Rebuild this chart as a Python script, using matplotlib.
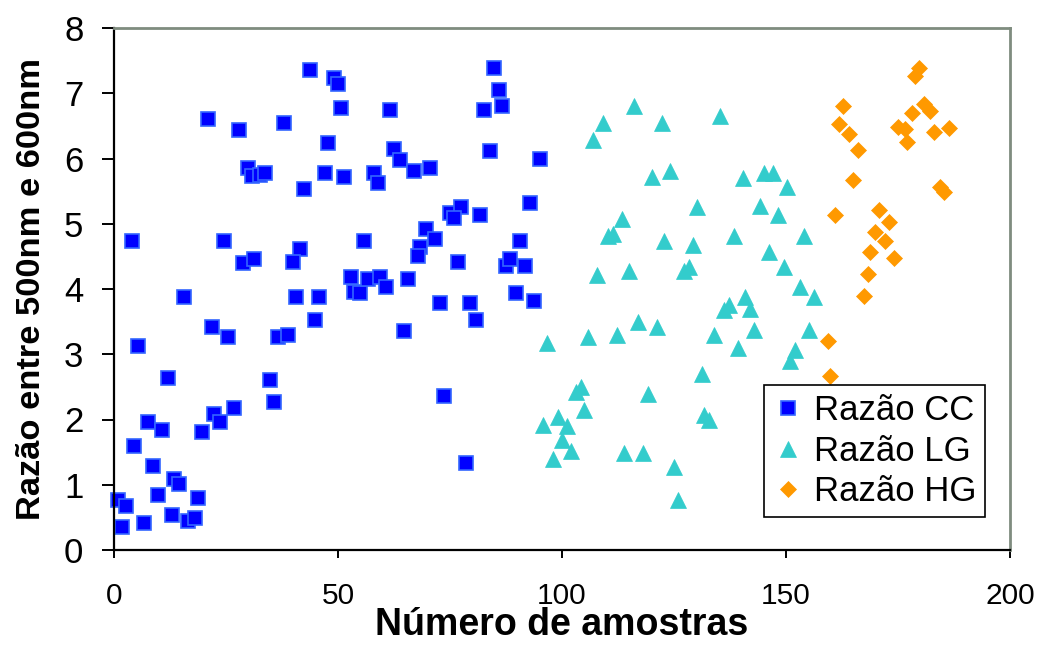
import matplotlib
matplotlib.use("Agg")
import matplotlib.pyplot as plt

plt.rcParams['font.family'] = ['Liberation Sans', 'DejaVu Sans']

# Razão CC (samples 1-95)
cc_x = [43.7, 49.1, 50.1, 50.6, 21.0, 27.8, 38.0, 47.8, 30.0, 30.9, 32.7, 33.6, 47.0, 51.4,
        42.5, 4.0, 24.6, 41.6, 28.9, 31.3, 39.9, 52.9, 53.6, 15.7, 40.7, 45.7, 44.8, 5.4,
        21.9, 25.5, 36.7, 38.9, 12.1, 34.9, 35.8, 7.6, 10.7, 4.4, 19.7, 22.4, 23.7, 26.8,
        8.7, 13.4, 14.5, 9.9, 18.7, 0.9, 2.7, 12.9, 6.6, 1.7, 16.5, 18.0,
        84.8, 86.0, 86.6, 82.6, 61.6, 62.5, 63.8, 67.0, 70.5, 83.9, 95.1, 58.0, 58.9, 92.9,
        75.0, 77.5, 75.9, 81.7, 55.8, 69.7, 71.7, 68.3, 67.9, 90.6, 76.8, 87.5, 88.5, 91.8,
        54.9, 56.7, 59.4, 60.7, 65.6, 72.8, 79.5, 80.8, 89.7, 93.75, 64.7, 73.7, 78.6]
cc_y = [7.35, 7.23, 7.14, 6.77, 6.61, 6.43, 6.55, 6.24, 5.85, 5.73, 5.74, 5.78, 5.78, 5.72,
        5.54, 4.73, 4.73, 4.62, 4.40, 4.46, 4.42, 4.18, 3.96, 3.87, 3.87, 3.87, 3.53, 3.13,
        3.41, 3.26, 3.26, 3.30, 2.64, 2.60, 2.27, 1.96, 1.84, 1.59, 1.81, 2.08, 1.96, 2.18,
        1.28, 1.09, 1.01, 0.85, 0.79, 0.76, 0.67, 0.53, 0.42, 0.36, 0.45, 0.49,
        7.38, 7.05, 6.80, 6.74, 6.74, 6.15, 5.97, 5.81, 5.85, 6.12, 6.00, 5.78, 5.62, 5.32,
        5.17, 5.26, 5.09, 5.13, 4.73, 4.92, 4.77, 4.64, 4.51, 4.73, 4.42, 4.36, 4.46, 4.36,
        3.94, 4.15, 4.19, 4.03, 4.15, 3.78, 3.78, 3.53, 3.94, 3.81, 3.35, 2.36, 1.33]

# Razão LG (samples 96-156)
lg_x = [116.0, 109.1, 122.3, 135.2, 107.0, 120.0, 124.0, 140.3, 145.1, 147.2, 150.3, 130.2,
        144.1, 148.2, 113.4, 110.2, 111.3, 122.7, 129.3, 138.3, 154.1, 146.1, 149.5, 107.9,
        115.0, 127.2, 128.3, 153.1, 156.3, 140.9, 137.2, 136.1, 141.9, 116.9, 121.2, 112.3,
        105.7, 96.7, 133.9, 142.9, 155.2, 139.3, 152.0, 150.9, 131.2, 104.3, 103.2, 119.1,
        104.8, 99.0, 95.7, 101.1, 99.9, 102.0, 98.1, 131.7, 132.9, 113.8, 118.1, 125.0, 126.0]
lg_y = [6.80, 6.55, 6.55, 6.65, 6.29, 5.71, 5.81, 5.70, 5.78, 5.78, 5.57, 5.26,
        5.27, 5.14, 5.08, 4.81, 4.84, 4.74, 4.68, 4.81, 4.81, 4.56, 4.33, 4.22,
        4.28, 4.28, 4.33, 4.03, 3.88, 3.88, 3.76, 3.68, 3.69, 3.49, 3.41, 3.30,
        3.27, 3.17, 3.29, 3.37, 3.37, 3.09, 3.06, 2.89, 2.69, 2.50, 2.42, 2.39,
        2.14, 2.04, 1.91, 1.90, 1.69, 1.52, 1.39, 2.07, 1.99, 1.49, 1.49, 1.27, 0.77]

# Razão HG (samples 157-186)
hg_x = [162.8, 161.9, 164.1, 166.1, 165.0, 160.9, 178.1, 180.8, 182.1, 175.1, 176.6, 177.1,
        183.1, 186.4, 184.4, 185.3, 170.8, 173.1, 169.9, 172.1, 168.8, 174.1, 168.2, 167.3,
        159.3, 159.8, 179.7, 178.8]
hg_y = [6.81, 6.53, 6.38, 6.13, 5.67, 5.14, 6.69, 6.84, 6.73, 6.48, 6.45, 6.26,
        6.40, 6.46, 5.56, 5.48, 5.21, 5.02, 4.87, 4.74, 4.56, 4.47, 4.23, 3.90,
        3.21, 2.66, 7.38, 7.26]

fig = plt.figure(figsize=(10.39, 6.48), dpi=100)
ax = fig.add_axes([114 / 1039, 1 - 550 / 648, 896 / 1039, 522 / 648])

ax.plot(cc_x, cc_y, linestyle='none', marker='s', markersize=9.5, markerfacecolor='#0000FF',
        markeredgecolor='#3366FF', markeredgewidth=1.2, label='Razão CC', clip_on=False)
ax.plot(lg_x, lg_y, linestyle='none', marker='^', markersize=11.5, markerfacecolor='#33CCCC',
        markeredgecolor='#33CCCC', markeredgewidth=0.5, label='Razão LG', clip_on=False)
ax.plot(hg_x, hg_y, linestyle='none', marker='D', markersize=8, markerfacecolor='#FF9900',
        markeredgecolor='#FF9900', markeredgewidth=0.5, label='Razão HG', clip_on=False)

ax.set_xlim(0, 200)
ax.set_ylim(0, 8)
ax.set_xticks([0, 50, 100, 150, 200])
ax.set_yticks(range(0, 9))

for side in ['left', 'bottom']:
    ax.spines[side].set_color('black')
    ax.spines[side].set_linewidth(1.6)
for side in ['top', 'right']:
    ax.spines[side].set_color('#7f8c7f')
    ax.spines[side].set_linewidth(2)

ax.tick_params(axis='y', direction='out', length=9, width=1.4, labelsize=25, pad=13)
ax.tick_params(axis='x', direction='out', length=6, width=1.4, labelsize=21.5, pad=17)

ax.set_xlabel('Número de amostras', fontsize=27, fontweight='bold', labelpad=-2)
ax.set_ylabel('Razão entre 500nm e 600nm', fontsize=24.8, fontweight='bold', labelpad=12)

leg = ax.legend(loc='lower right', bbox_to_anchor=(985 / 1039, 1 - 517 / 648),
                bbox_transform=fig.transFigure, fontsize=25, frameon=True, fancybox=False,
                edgecolor='black', framealpha=1, borderpad=0.25, labelspacing=0.22,
                handlelength=0.88, handletextpad=0.31, borderaxespad=0)
leg.get_frame().set_linewidth(1.2)

fig.savefig('out.png', dpi=100)
